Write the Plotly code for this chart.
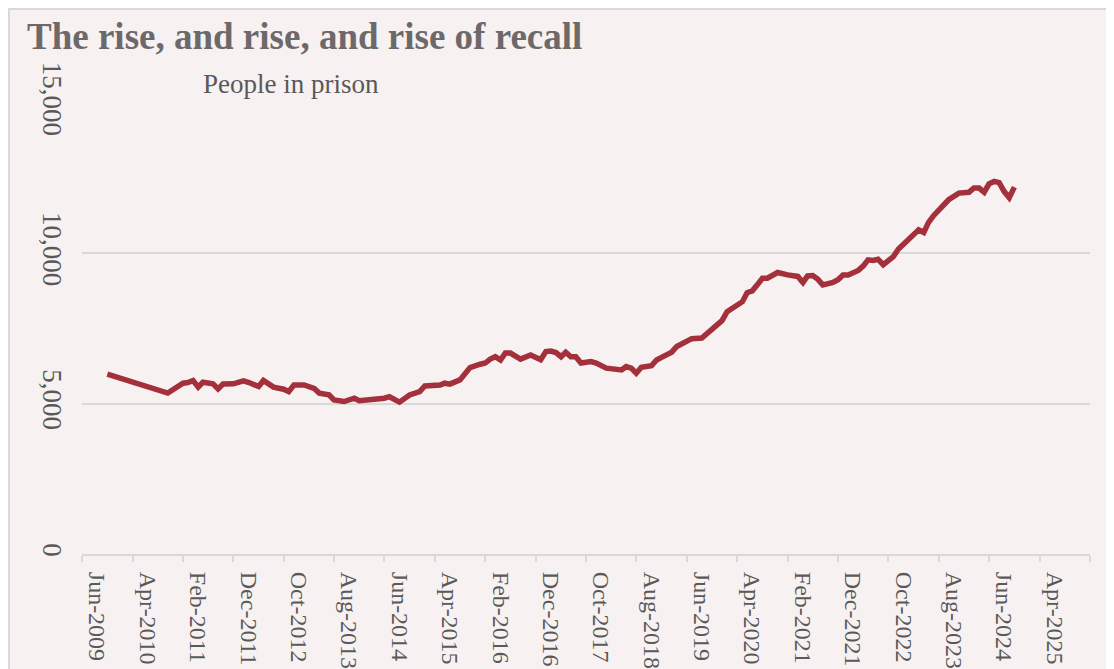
import plotly.graph_objects as go
import pandas as pd

# ---- data (people in prison on recall) ----
dates = [
    "2009-08", "2010-08", "2010-11", "2010-12", "2011-01", "2011-02", "2011-03", "2011-05",
    "2011-06", "2011-07", "2011-09", "2011-11", "2011-12", "2012-02", "2012-03", "2012-05",
    "2012-07", "2012-08", "2012-09", "2012-11", "2013-01", "2013-02", "2013-04", "2013-05",
    "2013-07", "2013-09", "2013-10", "2013-11", "2014-01", "2014-03", "2014-04", "2014-06",
    "2014-08", "2014-10", "2014-11", "2015-02", "2015-03", "2015-04", "2015-06", "2015-07",
    "2015-08", "2015-10", "2015-11", "2015-12", "2016-01", "2016-02", "2016-03", "2016-04",
    "2016-06", "2016-08", "2016-10", "2016-11", "2016-12", "2017-01", "2017-02", "2017-03",
    "2017-04", "2017-05", "2017-06", "2017-08", "2017-09", "2017-11", "2018-02", "2018-03",
    "2018-04", "2018-05", "2018-06", "2018-08", "2018-09", "2018-10", "2018-12", "2019-01",
    "2019-03", "2019-04", "2019-06", "2019-07", "2019-08", "2019-09", "2019-10", "2019-11",
    "2019-12", "2020-02", "2020-03", "2020-04", "2020-05", "2020-06", "2020-07", "2020-09",
    "2020-11", "2021-01", "2021-02", "2021-03", "2021-04", "2021-05", "2021-06", "2021-08",
    "2021-09", "2021-10", "2021-11", "2022-01", "2022-02", "2022-03", "2022-04", "2022-05",
    "2022-06", "2022-07", "2022-08", "2022-09", "2022-10", "2022-11", "2023-01", "2023-02",
    "2023-03", "2023-04", "2023-05", "2023-06", "2023-07", "2023-09", "2023-10", "2023-11",
    "2023-12", "2024-01", "2024-02", "2024-03", "2024-04", "2024-05", "2024-06", "2024-07",
    "2024-08",
]
people_in_prison = [
    5980, 5350, 5680, 5700, 5770, 5550, 5710, 5660,
    5490, 5650, 5660, 5760, 5710, 5570, 5770, 5550,
    5480, 5400, 5620, 5620, 5510, 5350, 5290, 5120,
    5070, 5180, 5100, 5120, 5120, 5180, 5230, 5050,
    5290, 5400, 5590, 5620, 5680, 5650, 5790, 6020,
    6200, 6310, 6350, 6480, 6560, 6450, 6680, 6680,
    6480, 6620, 6460, 6730, 6750, 6700, 6560, 6710,
    6560, 6560, 6350, 6400, 6350, 6180, 6120, 6230,
    6180, 6010, 6210, 6260, 6450, 6540, 6710, 6900,
    7100, 7160, 7180, 7330, 7480, 7660, 7760, 8060,
    8180, 8390, 8690, 8750, 8950, 9170, 9170, 9360,
    9280, 9230, 9030, 9250, 9260, 9140, 8950, 9030,
    9120, 9280, 9280, 9430, 9580, 9780, 9760, 9800,
    9620, 9750, 9890, 10140, 10300, 10470, 10780, 10690,
    11020, 11250, 11420, 11560, 11780, 12000, 12020, 12030,
    12170, 12170, 12030, 12310, 12390, 12350, 12050, 11850,
    12200,
]
tick_dates = [
    "2009-06", "2010-04", "2011-02", "2011-12", "2012-10", "2013-08", "2014-06",
    "2015-04", "2016-02", "2016-12", "2017-10", "2018-08", "2019-06", "2020-04",
    "2021-02", "2021-12", "2022-10", "2023-08", "2024-06", "2025-04",
]
y_ticks = [0, 5000, 10000, 15000]

title_text = "The rise, and rise, and rise of recall"
subtitle_text = "People in prison"

# ---- styling ----
BG = "#F7F1F1"
GRID = "#D9D9D9"
TEXT = "#595959"
TITLE = "#6D696A"
LINE = "#A3303A"
FONT = "Liberation Serif, Times New Roman, serif"

# page has an 8px body margin, so the figure is 8px smaller than the window
W, H = 1106, 661
L, R, T, B = 74, 24, 94, 115
pw, ph = W - L - R, H - T - B

def px_x(p):
    return (p - L) / pw

def px_y(p):
    return (H - B - p) / ph

x_dates = pd.to_datetime(dates)
major = pd.to_datetime(tick_dates)
boundaries = list(major - pd.DateOffset(months=3)) + [major[-1] + pd.DateOffset(months=7)]

fig = go.Figure()
fig.add_trace(go.Scatter(
    x=x_dates, y=people_in_prison, mode="lines",
    line=dict(color=LINE, width=5.5), hoverinfo="skip", showlegend=False,
))

fig.update_layout(
    width=W, height=H, autosize=False,
    margin=dict(l=L, r=R, t=T, b=B, pad=0),
    paper_bgcolor=BG, plot_bgcolor="rgba(0,0,0,0)",
    font=dict(family=FONT, color=TEXT, size=27),
    showlegend=False,
    shapes=[dict(
        type="rect", xref="paper", yref="paper", layer="below",
        x0=px_x(1), x1=px_x(1130), y0=px_y(700), y1=px_y(1),
        fillcolor=BG, line=dict(color=GRID, width=2),
    )],
    annotations=[
        dict(text=f"<b>{title_text}</b>", xref="paper", yref="paper",
             x=px_x(17), y=px_y(28), xanchor="left", yanchor="middle",
             showarrow=False, font=dict(family=FONT, size=37, color=TITLE)),
        dict(text=subtitle_text, xref="paper", yref="paper",
             x=px_x(193), y=px_y(76), xanchor="left", yanchor="middle",
             showarrow=False, font=dict(family=FONT, size=27, color=TEXT)),
    ],
)

fig.update_xaxes(
    type="date", automargin=False,
    range=[boundaries[0], boundaries[-1]],
    tickmode="array", tickvals=major, tickformat="%b-%Y",
    tickangle=90, ticks="", ticklabelstandoff=11,
    tickfont=dict(family=FONT, size=24, color=TEXT),
    showgrid=False, zeroline=False,
    showline=True, linecolor=GRID, linewidth=2,
    minor=dict(tickmode="array", tickvals=boundaries, ticks="outside",
               ticklen=6, tickcolor=GRID, tickwidth=2, showgrid=False),
)
fig.update_yaxes(
    automargin=False,
    range=[0, 15030], tickmode="array", tickvals=y_ticks, tickformat=",",
    tickangle=90, ticks="", ticklabelstandoff=11,
    tickfont=dict(family=FONT, size=27, color=TEXT),
    showgrid=True, gridcolor=GRID, gridwidth=1.5,
    zeroline=False, showline=False,
)

fig.write_html("out.html")
